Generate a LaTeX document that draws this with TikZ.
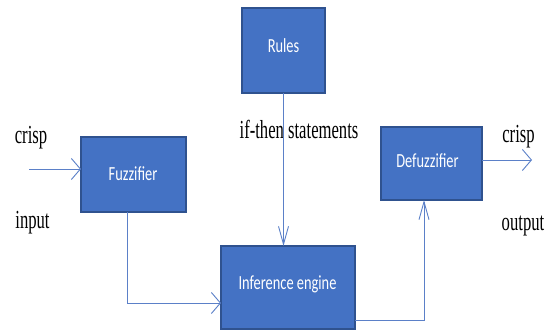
\documentclass[tikz,border=0pt]{standalone}
\usepackage{fontspec}
\setmainfont{Liberation Serif}
\newfontfamily\boxfont{Carlito}
\usetikzlibrary{arrows.meta}
\definecolor{boxfill}{HTML}{4472C4}
\definecolor{boxedge}{HTML}{2F528F}
\definecolor{linec}{HTML}{5B80C8}
\newcommand{\sqz}[2]{\scalebox{#1}[1]{#2}}
\tikzset{
  blockbox/.style={draw=boxedge, fill=boxfill, line width=1.6pt, inner sep=0pt, outer sep=0pt},
  boxtext/.style={anchor=base, inner sep=0pt, text=white, font=\boxfont\fontsize{20}{24}\selectfont},
  sertext/.style={anchor=base, inner sep=0pt, text=black, font=\fontsize{26}{30}\selectfont},
  conn/.style={draw=linec, line width=0.9pt},
  harrow/.style={conn, -{Straight Barb[length=9pt,width=21pt,line width=0.9pt]}},
  varrow/.style={conn, -{Straight Barb[length=18pt,width=10pt,line width=0.9pt]}}
}
\begin{document}
\begin{tikzpicture}[x=1pt,y=-1pt]
\useasboundingbox (0,0) rectangle (546,331);
% boxes
\node[blockbox, minimum width=105pt, minimum height=75pt] (fuzz) at (133.5,174.5) {};
\node[blockbox, minimum width=83pt, minimum height=85pt] (rules) at (283.5,50.5) {};
\node[blockbox, minimum width=134pt, minimum height=83pt] (inf) at (288,287.5) {};
\node[blockbox, minimum width=101pt, minimum height=73pt] (defuzz) at (431.5,163.5) {};
% box texts
\node[boxtext] (tfuzz) at (133,181) {\sqz{0.72}{Fuzzifier}};
\node[boxtext] (trules) at (283.5,53) {\sqz{0.72}{Rules}};
\node[boxtext] (tinf) at (287.5,289) {\sqz{0.72}{Inference engine}};
\node[boxtext] (tdefuzz) at (427.5,168) {\sqz{0.72}{Defuzzifier}};
% serif labels
\node[sertext] (crispin) at (31,144) {\sqz{0.64}{crisp}};
\node[sertext] (input) at (32.5,229) {\sqz{0.64}{input}};
\node[sertext] (ifthen) at (299,139) {\sqz{0.64}{if-then statements}};
\node[sertext] (crispout) at (518.5,143) {\sqz{0.64}{crisp}};
\node[sertext] (output) at (523,230) {\sqz{0.64}{output}};
% connectors
\coordinate (inS) at (29,169);
\coordinate (outE) at (532,160);
\draw[harrow] (inS) -- (inS -| fuzz.west);
\draw[harrow] ([xshift=-6.5pt]fuzz.south) |- ([yshift=-15.5pt]inf.west);
\draw[varrow] (rules.south) -- (rules.south |- inf.north);
\draw[varrow] ([yshift=-32.5pt]inf.east) -| ([xshift=-7.5pt]defuzz.south);
\draw[harrow] (outE -| defuzz.east) -- (outE);
\end{tikzpicture}
\end{document}
